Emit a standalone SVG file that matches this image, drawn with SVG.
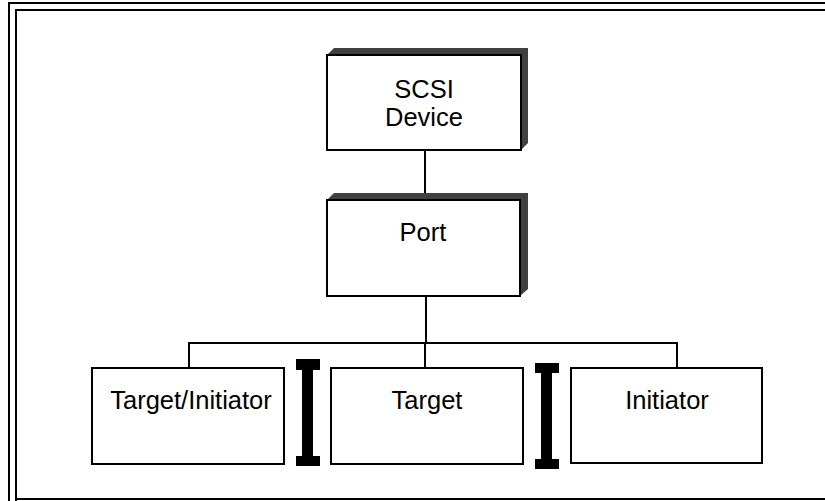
<svg xmlns="http://www.w3.org/2000/svg" width="825" height="501" viewBox="0 0 825 501">
<style>
.box{fill:#fff;stroke:#000;stroke-width:2}
.sh{fill:#404040}
.ln{fill:none;stroke:#000;stroke-width:2}
.t{font-family:"Liberation Sans",Arial,sans-serif;font-size:25.5px;fill:#000;text-anchor:middle}
.bar{fill:#000}
</style>
<rect width="825" height="501" fill="#fff"/>
<g id="frame" class="ln">
<path d="M9,501 V3 H825"/>
<path d="M16,501 V10 H825"/>
<path d="M16,499 H825"/>
</g>
<g id="connectors" class="ln">
<path d="M425,150 V200"/>
<path d="M426,296 V343"/>
<path d="M189,368 V343 H677 V368"/>
<path d="M425,343 V368"/>
</g>
<g id="scsi-device">
<polygon class="sh" points="327,55 334,48 528,48 528,143 521,150"/>
<rect class="box" x="327" y="55" width="194" height="95"/>
<text class="t" x="424" y="98">SCSI</text>
<text class="t" x="424" y="126">Device</text>
</g>
<g id="port">
<polygon class="sh" points="327,200 334,193 528,193 528,289 520,296"/>
<rect class="box" x="327" y="200" width="193" height="96"/>
<text class="t" x="423" y="241">Port</text>
</g>
<g id="target-initiator">
<rect class="box" x="92" y="368" width="192" height="96"/>
<text class="t" x="191" y="409">Target/Initiator</text>
</g>
<g id="target">
<rect class="box" x="331" y="368" width="192" height="96"/>
<text class="t" x="427" y="409">Target</text>
</g>
<g id="initiator">
<rect class="box" x="571" y="368" width="191" height="95"/>
<text class="t" x="667" y="409">Initiator</text>
</g>
<g id="separator-1" class="bar">
<rect x="296" y="359" width="24" height="11"/>
<rect x="302" y="359" width="11" height="107"/>
<rect x="296" y="456" width="24" height="10"/>
</g>
<g id="separator-2" class="bar">
<rect x="535" y="363" width="24" height="10"/>
<rect x="541" y="363" width="11" height="106"/>
<rect x="535" y="459" width="24" height="10"/>
</g>
</svg>
